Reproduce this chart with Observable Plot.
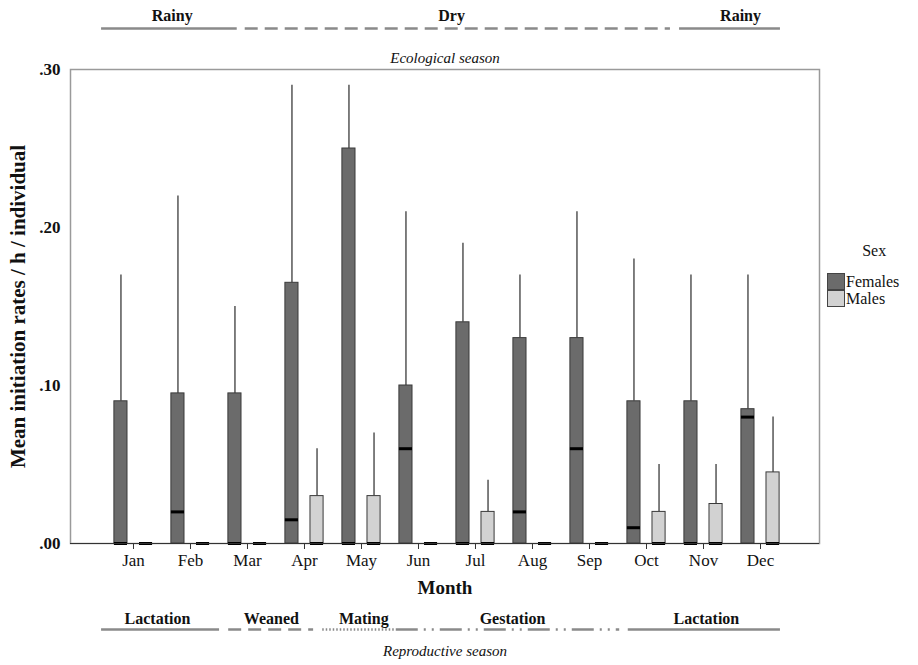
<!DOCTYPE html>
<html>
<head>
<meta charset="utf-8">
<script src="https://cdn.jsdelivr.net/npm/d3@7"></script>
<script src="https://cdn.jsdelivr.net/npm/@observablehq/plot@0.6"></script>
<style>
  body { margin: 0; background: #fff; }
  #wrap { position: relative; width: 918px; height: 665px; font-family: "Liberation Serif", serif; }
  #chart svg text { font-family: "Liberation Serif", serif; }
  #legend { position: absolute; left: 827px; top: 242px; font-size: 16px; color: #111; }
  #legend .title { text-align: center; margin-left: 22px; margin-bottom: 13px; }
  #legend .row { display: flex; align-items: center; height: 17px; }
  #legend .sw { width: 18px; height: 17px; border: 1px solid #444; box-sizing: border-box; margin-right: 1px; }
</style>
</head>
<body>
<div id="wrap">
  <div id="chart"></div>
  <div id="legend"></div>
</div>
<script>
const months = ["Jan","Feb","Mar","Apr","May","Jun","Jul","Aug","Sep","Oct","Nov","Dec"];
const sexes = ["Females", "Males"];
const femaleBoxTop  = [0.09, 0.095, 0.095, 0.165, 0.25, 0.10, 0.14, 0.13, 0.13, 0.09, 0.09, 0.085];
const femaleMedian  = [0.00, 0.02, 0.00, 0.015, 0.00, 0.06, 0.00, 0.02, 0.06, 0.01, 0.00, 0.08];
const femaleWhisker = [0.17, 0.22, 0.15, 0.29, 0.29, 0.21, 0.19, 0.17, 0.21, 0.18, 0.17, 0.17];
const maleBoxTop    = [0, 0, 0, 0.03, 0.03, 0, 0.02, 0, 0, 0.02, 0.025, 0.045];
const maleMedian    = [0, 0, 0, 0, 0, 0, 0, 0, 0, 0, 0, 0];
const maleWhisker   = [0, 0, 0, 0.06, 0.07, 0, 0.04, 0, 0, 0.05, 0.05, 0.08];
const yTicks = [0, 0.1, 0.2, 0.3];

// Season spans, in month units (1 = Jan ... 12 = Dec)
const ecoLabels = ["Rainy", "Dry", "Rainy"];
const ecoFrom   = [0.44, 2.96, 10.58];
const ecoTo     = [2.82, 10.42, 12.35];
const ecoStyle  = ["solid", "dashed", "solid"];
const ecoTextAt = [1.68, 6.58, 11.65];

const repLabels = ["Lactation", "Weaned", "Mating", "Gestation", "Lactation"];
const repFrom   = [0.44, 2.67, 4.32, 5.61, 9.68];
const repTo     = [2.51, 4.16, 5.58, 9.53, 12.35];
const repStyle  = ["solid", "dashed", "dotted", "dashdot", "solid"];
const repTextAt = [1.42, 3.42, 5.04, 7.65, 11.05];

const FONT = "'Liberation Serif', 'Times New Roman', serif";
const colors = {Females: "#6b6b6b", Males: "#d2d2d2"};
const offset = {Females: -0.22, Males: 0.22};
const hw = 0.115;

const rows = [];
months.forEach((m, i) => {
  rows.push({i: i + 1, month: m, sex: "Females", top: femaleBoxTop[i], median: femaleMedian[i], whisker: femaleWhisker[i]});
  rows.push({i: i + 1, month: m, sex: "Males", top: maleBoxTop[i], median: maleMedian[i], whisker: maleWhisker[i]});
});
rows.forEach(d => { d.xc = d.i + offset[d.sex]; d.x1 = d.xc - hw; d.x2 = d.xc + hw; });

const eco = ecoLabels.map((l, k) => ({label: l, from: ecoFrom[k], to: ecoTo[k], style: ecoStyle[k], at: ecoTextAt[k]}));
const rep = repLabels.map((l, k) => ({label: l, from: repFrom[k], to: repTo[k], style: repStyle[k], at: repTextAt[k]}));
const dash = {solid: null, dashed: "13,7", dotted: "1.5,2", dashdot: "22,6,2,6,2,6"};

const lineMarks = (arr, yv, dy) => Object.keys(dash).map(s =>
  Plot.ruleY(arr.filter(d => d.style === s), {x1: "from", x2: "to", y: yv, dy, stroke: "#8a8a8a", strokeWidth: 2.5, strokeDasharray: dash[s]}));

const chart = Plot.plot({
  width: 918,
  height: 665,
  marginLeft: 70,
  marginRight: 99,
  marginTop: 69,
  marginBottom: 122,
  style: {fontFamily: FONT, color: "#111", background: "#fff"},
  x: {type: "linear", domain: [-0.105, 13.035]},
  y: {domain: [0, 0.3]},
  marks: [
    Plot.frame({stroke: "#9a9a9a", strokeWidth: 1.5}),
    Plot.ruleX(rows.filter(d => d.whisker > d.top), {x: "xc", y1: "top", y2: "whisker", stroke: "#555", strokeWidth: 1.5}),
    Plot.rect(rows.filter(d => d.top > 0), {x1: "x1", x2: "x2", y1: 0, y2: "top", fill: d => colors[d.sex], stroke: "#3a3a3a", strokeWidth: 1}),
    Plot.ruleY(rows, {x1: "x1", x2: "x2", y: "median", stroke: "#000", strokeWidth: 3}),
    Plot.ruleY([0], {stroke: "#333", strokeWidth: 1}),
    Plot.axisY({ticks: yTicks, tickFormat: d => d.toFixed(2).replace(/^0/, ""), tickSize: 0, tickPadding: 10, fontSize: 17, fontWeight: "bold", fontFamily: FONT, label: null}),
    Plot.axisX({ticks: d3.range(1, 13), tickFormat: i => months[i - 1], tickSize: 6, tickPadding: 4, fontSize: 17, fontFamily: FONT, label: null, stroke: "#333"}),
    Plot.text(["Mean initiation rates / h / individual"], {frameAnchor: "left", textAnchor: "middle", rotate: -90, dx: -52, fontSize: 21, fontWeight: "bold", fontFamily: FONT}),
    Plot.text(["Month"], {frameAnchor: "bottom", dy: 50, fontSize: 19, fontWeight: "bold", fontFamily: FONT}),
    ...lineMarks(eco, 0.3, -41),
    Plot.text(eco, {x: "at", y: 0.3, dy: -54, text: "label", fontSize: 16, fontWeight: "bold", fontFamily: FONT}),
    Plot.text(["Ecological season"], {frameAnchor: "top", dy: -17, fontSize: 15, fontStyle: "italic", fontFamily: FONT, letterSpacing: "-0.3px"}),
    ...lineMarks(rep, 0, 86),
    Plot.text(rep, {x: "at", y: 0, dy: 75, text: "label", fontSize: 16, fontWeight: "bold", fontFamily: FONT}),
    Plot.text(["Reproductive season"], {frameAnchor: "bottom", dy: 112, fontSize: 15, fontStyle: "italic", fontFamily: FONT, letterSpacing: "-0.3px"})
  ]
});
document.getElementById("chart").appendChild(chart);

const legend = document.getElementById("legend");
legend.innerHTML = `<div class="title">Sex</div>` + sexes.map(s =>
  `<div class="row"><div class="sw" style="background:${colors[s]}"></div><span>${s}</span></div>`).join("");
</script>
</body>
</html>
